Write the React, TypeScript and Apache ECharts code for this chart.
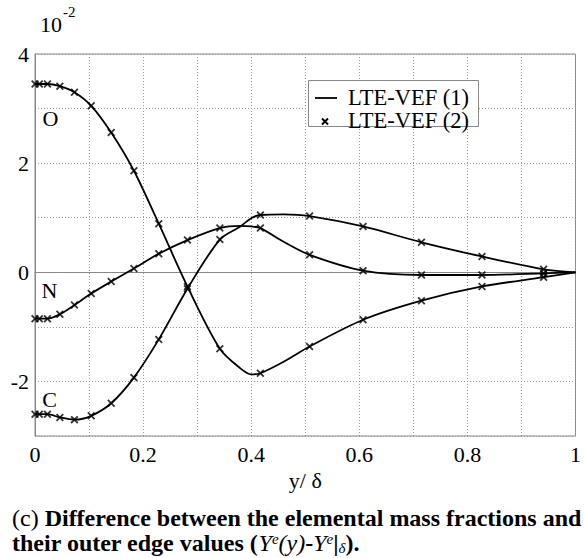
import React, { useEffect, useRef } from "react";
import * as echarts from "echarts";

// x positions of the marker points (y/δ)
const markerX = [0, 0.008, 0.023, 0.046, 0.073, 0.104, 0.141, 0.183, 0.229, 0.282, 0.342, 0.417, 0.508, 0.607, 0.715, 0.827, 0.941];
const markerO = [3.45, 3.45, 3.45, 3.41, 3.3, 3.05, 2.56, 1.86, 0.89, -0.26, -1.4, -1.85, -1.36, -0.87, -0.52, -0.26, -0.09];
const markerN = [-0.85, -0.85, -0.85, -0.77, -0.6, -0.39, -0.17, 0.07, 0.34, 0.59, 0.81, 0.81, 0.32, 0.03, -0.05, -0.05, -0.02];
const markerC = [-2.6, -2.6, -2.6, -2.66, -2.7, -2.63, -2.4, -1.93, -1.23, -0.3, 0.6, 1.05, 1.03, 0.84, 0.55, 0.29, 0.055];

// points
const lineX = [0, 0.023, 0.046, 0.073, 0.104, 0.141, 0.183, 0.229, 0.282, 0.342, 0.38, 0.4, 0.417, 0.46, 0.508, 0.607, 0.715, 0.827, 0.941, 1];
const lineO = [3.45, 3.45, 3.41, 3.3, 3.05, 2.56, 1.86, 0.89, -0.26, -1.4, -1.76, -1.87, -1.85, -1.64, -1.36, -0.87, -0.52, -0.26, -0.09, 0];
const lineN = [-0.85, -0.85, -0.77, -0.6, -0.39, -0.17, 0.07, 0.34, 0.59, 0.81, 0.85, 0.84, 0.81, 0.56, 0.32, 0.03, -0.05, -0.05, -0.02, 0];
const lineC = [-2.6, -2.6, -2.66, -2.7, -2.63, -2.4, -1.93, -1.23, -0.3, 0.6, 0.84, 0.99, 1.05, 1.06, 1.03, 0.84, 0.55, 0.29, 0.055, 0];

const legendNames = ["LTE-VEF (1)", "LTE-VEF (2)"];
const curveLabels = ["O", "N", "C"];

const FONT = "Liberation Serif";
const X_SYMBOL =
  "path://M0,1.6L1.6,0L5,3.4L8.4,0L10,1.6L6.6,5L10,8.4L8.4,10L5,6.6L1.6,10L0,8.4L3.4,5Z";

const txt = (size: number, extra: any = {}) => ({
  fontFamily: FONT,
  fontSize: size,
  fill: "#000",
  ...extra,
});

export default function App() {
  const ref = useRef<HTMLDivElement>(null);
  useEffect(() => {
    if (!ref.current) return;
    const chart = echarts.init(ref.current, null, { renderer: "svg" });
    const lines = [lineO, lineN, lineC];
    const marks = [markerO, markerN, markerC];
    const series: any[] = [];
    lines.forEach((ys) => {
      series.push({
        type: "line",
        name: legendNames[0],
        data: lineX.map((x, i) => [x, ys[i]]),
        smooth: 0.3,
        showSymbol: false,
        lineStyle: { color: "#000", width: 1.8 },
        z: 3,
      });
    });
    marks.forEach((ys) => {
      series.push({
        type: "scatter",
        name: legendNames[1],
        data: markerX.map((x, i) => [x, ys[i]]),
        symbol: X_SYMBOL,
        symbolSize: 8,
        itemStyle: { color: "#000" },
        z: 4,
      });
    });
    chart.setOption({
      animation: false,
      grid: {
        left: 35,
        right: 2,
        top: 54,
        bottom: 122,
        show: true,
        borderColor: "#888",
        borderWidth: 1,
        backgroundColor: "#fff",
      },
      xAxis: {
        type: "value",
        min: 0,
        max: 1,
        interval: 0.1,
        name: "y/ δ",
        nameLocation: "middle",
        nameGap: 26,
        nameTextStyle: { fontFamily: FONT, fontSize: 22, color: "#000" },
        axisLine: { show: true, lineStyle: { color: "#888" } },
        axisTick: { show: false },
        splitLine: { show: true, lineStyle: { color: "#999", type: [1, 2], width: 1 } },
        axisLabel: {
          fontFamily: FONT,
          fontSize: 22,
          color: "#000",
          margin: 7,
          formatter: (v: number) => {
            const t = Math.round(v * 10);
            return t % 2 === 0 ? String(t / 10) : "";
          },
        },
      },
      yAxis: {
        type: "value",
        min: -3,
        max: 4,
        interval: 1,
        axisLine: { show: true, lineStyle: { color: "#888" } },
        axisTick: { show: false },
        splitLine: { show: true, lineStyle: { color: "#999", type: [1, 2], width: 1 } },
        axisLabel: {
          fontFamily: FONT,
          fontSize: 22,
          color: "#000",
          margin: 6,
          formatter: (v: number) => (Math.round(v) % 2 === 0 ? String(Math.round(v)) : ""),
        },
      },
      series,
      graphic: [
        // exponent
        { type: "text", x: 40, y: 24, style: { text: "10", ...txt(22, { verticalAlign: "middle" }) } },
        { type: "text", x: 63, y: 12, style: { text: "-2", ...txt(15, { verticalAlign: "middle" }) } },
        // curve labels
        { type: "text", x: 50.5, y: 118.5, style: { text: curveLabels[0], ...txt(22, { align: "center", verticalAlign: "middle" }) } },
        { type: "text", x: 49.5, y: 290.5, style: { text: curveLabels[1], ...txt(22, { align: "center", verticalAlign: "middle" }) } },
        { type: "text", x: 49.5, y: 399.5, style: { text: curveLabels[2], ...txt(22, { align: "center", verticalAlign: "middle" }) } },
        // legend
        {
          type: "rect",
          shape: { x: 308.5, y: 80.5, width: 170, height: 46 },
          style: { fill: "#fff", stroke: "#888", lineWidth: 1 },
          z: 10,
        },
        { type: "line", shape: { x1: 315, y1: 98, x2: 337, y2: 98 }, style: { stroke: "#000", lineWidth: 1.8 }, z: 11 },
        { type: "line", shape: { x1: 322, y1: 118.5, x2: 328, y2: 124.5 }, style: { stroke: "#000", lineWidth: 2 }, z: 11 },
        { type: "line", shape: { x1: 328, y1: 118.5, x2: 322, y2: 124.5 }, style: { stroke: "#000", lineWidth: 2 }, z: 11 },
        { type: "text", x: 348, y: 97.5, z: 11, style: { text: legendNames[0], ...txt(22.5, { verticalAlign: "middle" }) } },
        { type: "text", x: 348, y: 120.5, z: 11, style: { text: legendNames[1], ...txt(22.5, { verticalAlign: "middle" }) } },
        // caption
        {
          type: "text",
          x: 12,
          y: 518,
          style: {
            text: "{r|(c) }{b|Difference between the elemental mass fractions and}",
            verticalAlign: "middle",
            rich: {
              r: { fontFamily: FONT, fontSize: 24, color: "#000", lineHeight: 24 },
              b: { fontFamily: FONT, fontSize: 24, fontWeight: "bold", color: "#000", lineHeight: 24 },
            },
          },
        },
        {
          type: "text",
          x: 12,
          y: 543,
          style: {
            text: "{b|their outer edge values (}{i|Y}{sup|e}{i|(y)}{b|-}{i|Y}{sup|e}{b||}{sub|δ}{b|).}",
            verticalAlign: "middle",
            rich: {
              b: { fontFamily: FONT, fontSize: 24, fontWeight: "bold", color: "#000", lineHeight: 24 },
              i: { fontFamily: FONT, fontSize: 24, fontStyle: "italic", color: "#000", lineHeight: 24 },
              sup: { fontFamily: FONT, fontSize: 15, fontStyle: "italic", color: "#000", verticalAlign: "top", lineHeight: 24 },
              sub: { fontFamily: FONT, fontSize: 15, fontStyle: "italic", color: "#000", verticalAlign: "bottom", lineHeight: 24 },
            },
          },
        },
      ],
    });
    return () => chart.dispose();
  }, []);
  return (
    <div
      ref={ref}
      style={{ position: "fixed", left: 0, top: 0, width: 584, height: 558, background: "#fff" }}
    />
  );
}
